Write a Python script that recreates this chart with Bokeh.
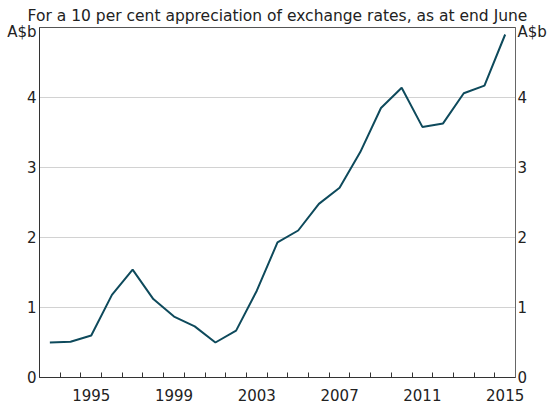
from bokeh.plotting import figure
from bokeh.models import Range1d, LinearAxis, FixedTicker
from bokeh.embed import file_html
from bokeh.resources import INLINE

# ---- data ----
years = [1993, 1994, 1995, 1996, 1997, 1998, 1999, 2000, 2001, 2002, 2003, 2004,
         2005, 2006, 2007, 2008, 2009, 2010, 2011, 2012, 2013, 2014, 2015]
values = [0.50, 0.51, 0.60, 1.18, 1.54, 1.12, 0.87, 0.73, 0.50, 0.67, 1.24, 1.93,
          2.10, 2.48, 2.71, 3.22, 3.85, 4.14, 3.58, 3.63, 4.06, 4.17, 4.90]
x_tick_labels = [1995, 1999, 2003, 2007, 2011, 2015]
y_ticks = [0, 1, 2, 3, 4]
y_max = 5
title_text = "For a 10 per cent appreciation of exchange rates, as at end June"
unit_text = "A$b"

FONT = "DejaVu Sans"
TXT = "#222222"

year_boundaries = [y + 0.5 for y in years[:-1]]
unit_pos = y_max - 0.07          # unit label sits just below the top of the frame
label_ticks = y_ticks + [unit_pos]
label_overrides = {unit_pos: unit_text}

p = figure(width=550, height=406, output_backend="svg", toolbar_location=None,
           x_range=Range1d(years[0] - 0.5, years[-1] + 0.5), y_range=Range1d(0, y_max),
           min_border_left=39, min_border_right=35, min_border_top=27, min_border_bottom=29,
           title=title_text)
p.background_fill_color = "white"
p.border_fill_color = "white"
p.outline_line_color = "#555555"
p.outline_line_width = 1

p.title.align = "center"
p.title.text_font = FONT
p.title.text_font_size = "15.5px"
p.title.text_font_style = "normal"
p.title.text_color = TXT
p.title.standoff = 6

p.line(years, values, line_color="#0e4a5c", line_width=2)

# x axis
xa = p.xaxis[0]
xa.ticker = FixedTicker(ticks=x_tick_labels, minor_ticks=year_boundaries)
xa.major_tick_in = 0
xa.major_tick_out = 0
xa.minor_tick_in = 5
xa.minor_tick_out = 0
xa.minor_tick_line_color = "#333333"
xa.axis_line_color = "#333333"
xa.major_label_text_font = FONT
xa.major_label_text_font_size = "15px"
xa.major_label_text_color = TXT
xa.major_label_standoff = 11

# y axes
ya = p.yaxis[0]
ya.ticker = FixedTicker(ticks=label_ticks)
ya.major_label_overrides = label_overrides
ya.major_tick_in = 0
ya.major_tick_out = 0
ya.minor_tick_line_color = None
ya.axis_line_color = "#333333"
ya.major_label_text_font = FONT
ya.major_label_text_font_size = "15px"
ya.major_label_text_color = TXT
ya.major_label_standoff = 3

ra = LinearAxis(ticker=FixedTicker(ticks=label_ticks))
ra.major_label_overrides = label_overrides
ra.major_tick_in = 0
ra.major_tick_out = 0
ra.minor_tick_line_color = None
ra.axis_line_color = "#666666"
ra.major_label_text_font = FONT
ra.major_label_text_font_size = "15px"
ra.major_label_text_color = TXT
ra.major_label_standoff = 2
p.add_layout(ra, "right")

p.xgrid.visible = False
p.ygrid.ticker = FixedTicker(ticks=y_ticks)
p.ygrid.grid_line_color = "#d2d2d2"
p.ygrid.grid_line_width = 1

open("out.html", "w").write(file_html(p, INLINE))
